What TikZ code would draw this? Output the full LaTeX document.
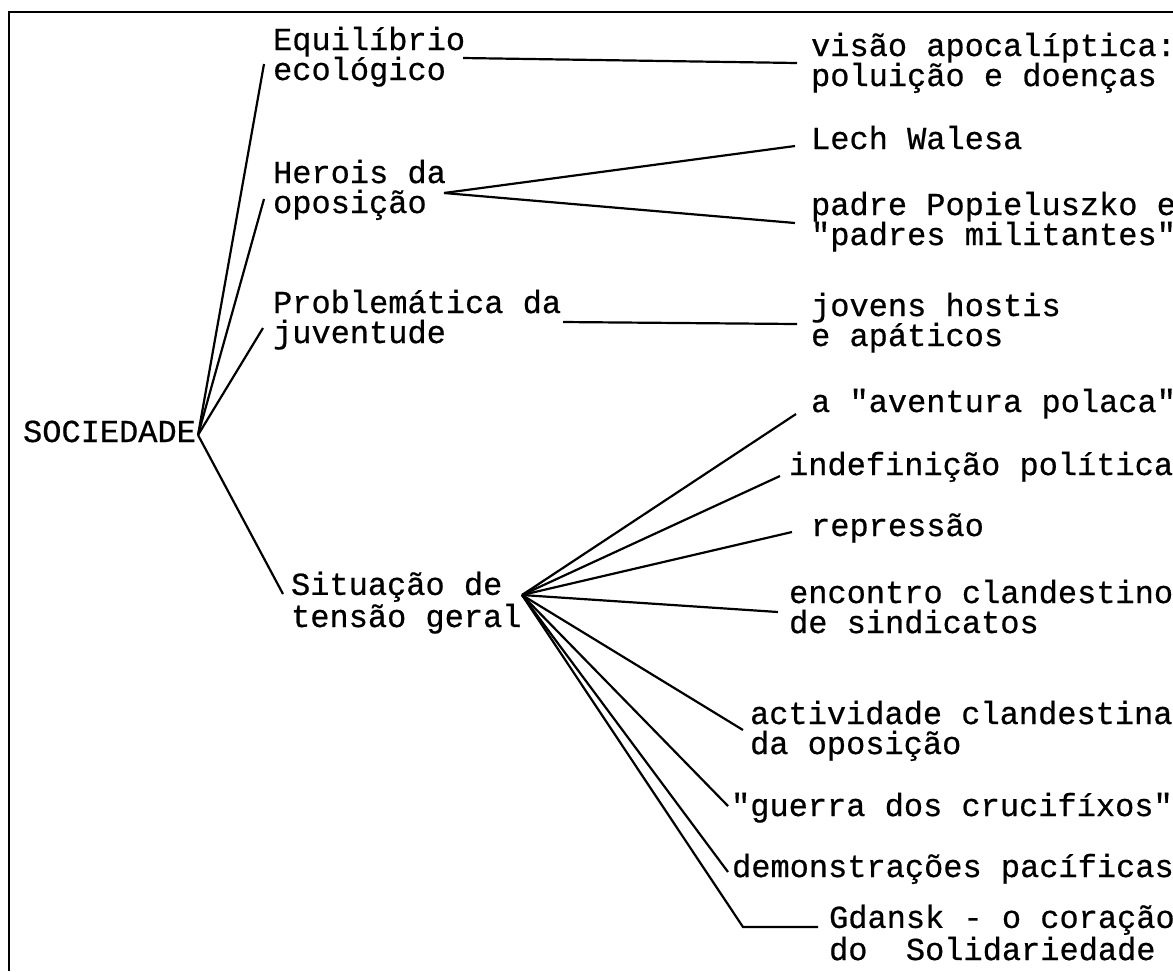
\documentclass[tikz,border=0pt]{standalone}
\usepackage{fontspec}
\newfontfamily\typewr{Liberation Mono}[FakeBold=0.6]

\begin{document}
\begin{tikzpicture}[x=0.5pt,y=-0.5pt,line width=1.1pt,
  txt/.style={font=\typewr\fontsize{16pt}{15pt}\selectfont,inner sep=0pt,anchor=base west,align=left}]
\useasboundingbox (0,0) rectangle (1173,971);
\path[draw] (9,971) -- (9,12) -- (1173,12);
% left column (two-line nodes sit on their last line)
\node[txt] (soc) at (22,442) {SOCIEDADE};
\node[txt] (equi) at (272,80) {Equilíbrio\\ecológico};
\node[txt] (herois) at (272,213) {Herois da\\oposição};
\node[txt] (probl) at (272,343) {Problemática da\\juventude};
\node[txt] (sit) at (290,627) {Situação de\\tensão geral};
% right column
\node[txt] (visao) at (810,86) {visão apocalíptica:\\poluição e doenças};
\node[txt] (lech) at (810,149) {Lech Walesa};
\node[txt] (padre) at (810,245) {padre Popieluszko e\\"padres militantes"};
\node[txt] (jovens) at (810,346) {jovens hostis\\e apáticos};
\node[txt] (avent) at (810,412) {a "aventura polaca"};
\node[txt] (indef) at (788,475) {indefinição política};
\node[txt] (repr) at (810,536) {repressão};
\node[txt] (encontro) at (788,633) {encontro clandestino\\de sindicatos};
\node[txt] (activ) at (749,754) {actividade clandestina\\da oposição};
\node[txt] (guerra) at (730,816) {"guerra dos crucifíxos"};
\node[txt] (demon) at (731,877) {demonstrações pacíficas};
\node[txt] (gdansk) at (828,960) {Gdansk - o coração\\do~~Solidariedade};
% junctions
\coordinate (j0) at ([shift={(1,-7)}]soc.base east);
\coordinate (jh) at ([shift={(172,-20)}]herois.base west);
\coordinate (js) at ([shift={(232,-32)}]sit.base west);
\coordinate (gk) at ([shift={(-85,-33)}]gdansk.base west);
% branches of SOCIEDADE
\path[draw] (j0) -- ([shift={(-8,-16)}]equi.base west);
\path[draw] (j0) -- ([shift={(-8,-14)}]herois.base west);
\path[draw] (j0) -- ([shift={(-9,-15)}]probl.base west);
\path[draw] (j0) -- ([shift={(-7,-33)}]sit.base west);
% second level
\path[draw] ([shift={(191,-22)}]equi.base west) -- ([shift={(-13,-23)}]visao.base west);
\path[draw] (jh) -- ([shift={(-15,-3)}]lech.base west);
\path[draw] (jh) -- ([shift={(-15,-22)}]padre.base west);
\path[draw] ([shift={(291,-21)}]probl.base west) -- ([shift={(-13,-22)}]jovens.base west);
\path[draw] (js) -- ([shift={(-14,2)}]avent.base west);
\path[draw] (js) -- ([shift={(-8,1)}]indef.base west);
\path[draw] (js) -- ([shift={(-18,-4)}]repr.base west);
\path[draw] (js) -- ([shift={(-10,-21)}]encontro.base west);
\path[draw] (js) -- ([shift={(-6,-24)}]activ.base west);
\path[draw] (js) -- ([shift={(-2,-10)}]guerra.base west);
\path[draw] (js) -- ([shift={(-3,-5)}]demon.base west);
\path[draw] (js) -- (gk) -- ([shift={(-10,-33)}]gdansk.base west);
\end{tikzpicture}
\end{document}
